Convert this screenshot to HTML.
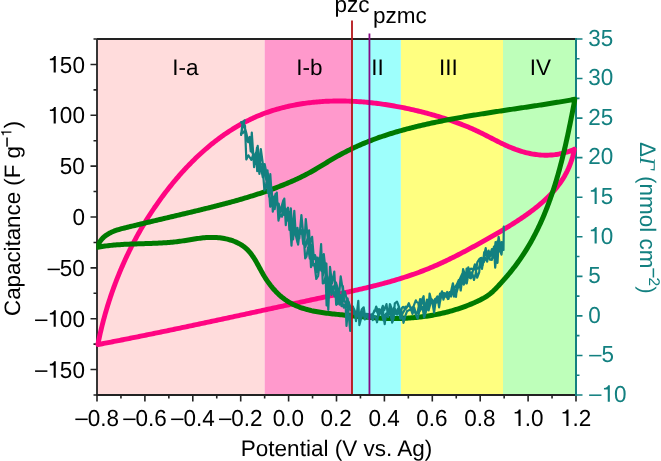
<!DOCTYPE html>
<html><head><meta charset="utf-8"><style>
html,body{margin:0;padding:0;background:#fff;}
svg{display:block;will-change:transform;}
.t{text-rendering:geometricPrecision;font-family:"Liberation Sans",sans-serif;font-size:22.5px;fill:#000;}
.teal{fill:#138080;}
</style></head><body>
<svg width="661" height="461" viewBox="0 0 661 461">
<defs><clipPath id="gclip"><rect x="96.4" y="30" width="481" height="370"/></clipPath></defs>
<rect width="661" height="461" fill="#fff"/>
<rect x="97.00" y="39.00" width="167.65" height="356.00" fill="#ffdcdc"/><rect x="264.65" y="39.00" width="87.55" height="356.00" fill="#ff99cc"/><rect x="352.20" y="39.00" width="48.70" height="356.00" fill="#9efffc"/><rect x="400.90" y="39.00" width="102.10" height="356.00" fill="#ffff80"/><rect x="503.00" y="39.00" width="73.00" height="356.00" fill="#beffba"/>
<g fill="none">
<path d="M97.0,39.0H576.0 M97.0,39.0V395.0 M96.0,395.0H576.0" stroke="#222222" stroke-width="1.8"/>
<path d="M97.00,395.00H93.50M97.00,369.57H90.50M97.00,344.14H93.50M97.00,318.71H90.50M97.00,293.29H93.50M97.00,267.86H90.50M97.00,242.43H93.50M97.00,217.00H90.50M97.00,191.57H93.50M97.00,166.14H90.50M97.00,140.71H93.50M97.00,115.29H90.50M97.00,89.86H93.50M97.00,64.43H90.50M97.00,39.00H93.50M97.00,395.00V401.50M120.95,395.00V398.50M144.90,395.00V401.50M168.85,395.00V398.50M192.80,395.00V401.50M216.75,395.00V398.50M240.70,395.00V401.50M264.65,395.00V398.50M288.60,395.00V401.50M312.55,395.00V398.50M336.50,395.00V401.50M360.45,395.00V398.50M384.40,395.00V401.50M408.35,395.00V398.50M432.30,395.00V401.50M456.25,395.00V398.50M480.20,395.00V401.50M504.15,395.00V398.50M528.10,395.00V401.50M552.05,395.00V398.50M576.00,395.00V401.50" stroke="#222222" stroke-width="1.6"/>
<path d="M576.0,38.0V396.0" stroke="#138080" stroke-width="2"/>
<path d="M576.00,395.00H582.50M576.00,375.22H579.50M576.00,355.44H582.50M576.00,335.67H579.50M576.00,315.89H582.50M576.00,296.11H579.50M576.00,276.33H582.50M576.00,256.56H579.50M576.00,236.78H582.50M576.00,217.00H579.50M576.00,197.22H582.50M576.00,177.44H579.50M576.00,157.67H582.50M576.00,137.89H579.50M576.00,118.11H582.50M576.00,98.33H579.50M576.00,78.56H582.50M576.00,58.78H579.50M576.00,39.00H582.50" stroke="#138080" stroke-width="1.6"/>
</g>
<g fill="none" stroke-linejoin="round" stroke-linecap="round">
<path d="M97.90,344.30 L98.19,342.83 L98.50,341.36 L98.80,339.89 L99.12,338.42 L99.44,336.95 L99.76,335.48 L100.09,334.02 L100.42,332.56 L100.77,331.10 L101.11,329.64 L101.46,328.18 L101.82,326.72 L102.18,325.27 L102.55,323.82 L102.92,322.37 L103.30,320.92 L103.69,319.47 L104.08,318.03 L104.47,316.58 L104.87,315.14 L105.28,313.70 L105.69,312.26 L106.11,310.82 L106.53,309.39 L106.96,307.96 L107.40,306.52 L107.84,305.09 L108.28,303.67 L108.73,302.24 L109.19,300.82 L109.65,299.40 L110.12,297.98 L110.59,296.56 L111.07,295.14 L111.55,293.73 L112.04,292.32 L112.54,290.91 L113.04,289.50 L113.54,288.10 L114.05,286.69 L114.57,285.29 L115.09,283.89 L115.62,282.50 L116.15,281.10 L116.69,279.71 L117.24,278.32 L117.79,276.93 L118.34,275.55 L118.91,274.16 L119.47,272.78 L120.05,271.40 L120.62,270.03 L121.21,268.65 L121.80,267.28 L122.39,265.91 L122.99,264.54 L123.60,263.18 L124.21,261.82 L124.83,260.46 L125.45,259.10 L126.08,257.74 L126.71,256.39 L127.35,255.04 L127.99,253.69 L128.64,252.35 L129.30,251.01 L129.96,249.67 L130.63,248.33 L131.30,247.00 L131.98,245.66 L132.66,244.33 L133.35,243.01 L134.05,241.68 L134.75,240.36 L135.46,239.04 L136.17,237.73 L136.89,236.41 L137.61,235.10 L138.34,233.80 L139.07,232.49 L139.81,231.19 L140.56,229.89 L141.31,228.59 L142.06,227.30 L142.83,226.01 L143.59,224.72 L144.37,223.44 L145.15,222.16 L145.93,220.88 L146.72,219.60 L147.52,218.33 L148.32,217.06 L149.13,215.79 L149.94,214.53 L150.76,213.27 L151.58,212.01 L152.41,210.75 L153.25,209.50 L154.09,208.25 L154.94,207.01 L155.79,205.77 L156.65,204.53 L157.51,203.29 L158.38,202.06 L159.25,200.83 L160.13,199.60 L161.02,198.38 L161.91,197.16 L162.81,195.94 L163.71,194.73 L164.62,193.52 L165.54,192.32 L166.46,191.11 L167.38,189.92 L168.31,188.72 L169.25,187.53 L170.19,186.35 L171.14,185.17 L172.09,183.99 L173.05,182.82 L174.02,181.65 L174.99,180.49 L175.96,179.33 L176.94,178.17 L177.93,177.03 L178.92,175.88 L179.92,174.74 L180.92,173.61 L181.93,172.48 L182.95,171.36 L183.97,170.25 L184.99,169.14 L186.02,168.03 L187.06,166.93 L188.10,165.84 L189.15,164.75 L190.20,163.67 L191.26,162.60 L192.32,161.53 L193.39,160.47 L194.47,159.41 L195.55,158.36 L196.63,157.32 L197.73,156.29 L198.82,155.26 L199.92,154.24 L201.03,153.22 L202.14,152.22 L203.26,151.22 L204.39,150.23 L205.51,149.24 L206.65,148.27 L207.79,147.30 L208.93,146.34 L210.08,145.38 L211.24,144.44 L212.40,143.50 L213.57,142.57 L214.74,141.65 L215.92,140.74 L217.10,139.84 L218.29,138.95 L219.48,138.06 L220.68,137.18 L221.89,136.31 L223.09,135.46 L224.31,134.61 L225.53,133.77 L226.75,132.93 L227.99,132.11 L229.22,131.30 L230.46,130.50 L231.71,129.70 L232.96,128.92 L234.22,128.15 L235.48,127.38 L236.75,126.63 L238.02,125.89 L239.30,125.16 L240.58,124.43 L241.87,123.72 L243.16,123.02 L244.46,122.33 L245.77,121.65 L247.08,120.98 L248.39,120.32 L249.71,119.68 L251.04,119.04 L252.37,118.42 L253.70,117.80 L255.04,117.20 L256.39,116.61 L257.74,116.04 L259.09,115.47 L260.45,114.92 L261.82,114.37 L263.19,113.84 L264.57,113.32 L265.95,112.82 L267.34,112.32 L268.73,111.84 L270.12,111.36 L271.52,110.90 L272.93,110.45 L274.33,110.02 L275.75,109.59 L277.16,109.17 L278.59,108.77 L280.01,108.38 L281.44,107.99 L282.87,107.62 L284.31,107.26 L285.75,106.91 L287.20,106.57 L288.65,106.24 L290.10,105.93 L291.55,105.62 L293.01,105.32 L294.47,105.03 L295.94,104.76 L297.41,104.49 L298.88,104.24 L300.35,103.99 L301.83,103.76 L303.31,103.53 L304.79,103.32 L306.28,103.11 L307.77,102.92 L309.26,102.73 L310.75,102.56 L312.25,102.39 L313.74,102.23 L315.24,102.09 L316.75,101.95 L318.25,101.82 L319.76,101.70 L321.26,101.59 L322.77,101.49 L324.28,101.40 L325.80,101.32 L327.31,101.25 L328.83,101.18 L330.35,101.13 L331.86,101.08 L333.38,101.04 L334.91,101.01 L336.43,100.99 L337.95,100.98 L339.48,100.98 L341.00,100.99 L342.53,101.00 L344.05,101.02 L345.58,101.05 L347.11,101.09 L348.64,101.14 L350.16,101.19 L351.69,101.26 L353.22,101.33 L354.75,101.41 L356.28,101.49 L357.81,101.59 L359.34,101.69 L360.87,101.80 L362.40,101.92 L363.92,102.04 L365.45,102.17 L366.98,102.31 L368.51,102.46 L370.03,102.61 L371.56,102.78 L373.08,102.94 L374.61,103.12 L376.13,103.30 L377.65,103.49 L379.17,103.69 L380.69,103.89 L382.21,104.10 L383.73,104.32 L385.24,104.54 L386.75,104.77 L388.27,105.01 L389.78,105.25 L391.29,105.50 L392.79,105.76 L394.30,106.02 L395.80,106.29 L397.30,106.56 L398.80,106.84 L400.30,107.13 L401.79,107.42 L403.28,107.71 L404.77,108.02 L406.26,108.33 L407.74,108.64 L409.23,108.96 L410.70,109.29 L412.18,109.62 L413.65,109.96 L415.12,110.30 L416.59,110.65 L418.05,111.00 L419.51,111.36 L420.97,111.72 L422.43,112.09 L423.88,112.46 L425.32,112.84 L426.77,113.22 L428.20,113.61 L429.64,114.00 L431.07,114.40 L432.50,114.80 L433.92,115.21 L435.34,115.62 L436.76,116.03 L438.17,116.45 L439.57,116.87 L440.98,117.30 L442.38,117.74 L443.77,118.17 L445.16,118.61 L446.55,119.06 L447.93,119.52 L449.31,119.97 L450.68,120.44 L452.06,120.91 L453.43,121.39 L454.79,121.87 L456.16,122.36 L457.52,122.86 L458.88,123.36 L460.24,123.87 L461.59,124.39 L462.94,124.92 L464.29,125.46 L465.64,126.00 L466.99,126.55 L468.33,127.11 L469.68,127.68 L471.02,128.26 L472.36,128.85 L473.70,129.45 L475.04,130.06 L476.38,130.68 L477.72,131.31 L479.06,131.95 L480.40,132.59 L481.73,133.25 L483.07,133.92 L484.41,134.60 L485.75,135.28 L487.09,135.96 L488.43,136.65 L489.77,137.34 L491.11,138.04 L492.46,138.73 L493.80,139.42 L495.15,140.12 L496.50,140.80 L497.86,141.49 L499.21,142.16 L500.57,142.83 L501.93,143.50 L503.29,144.15 L504.66,144.79 L506.03,145.42 L507.41,146.04 L508.79,146.65 L510.17,147.24 L511.56,147.81 L512.95,148.37 L514.35,148.91 L515.75,149.43 L517.15,149.93 L518.56,150.41 L519.97,150.87 L521.39,151.32 L522.81,151.74 L524.24,152.14 L525.67,152.51 L527.10,152.87 L528.54,153.20 L529.98,153.51 L531.42,153.80 L532.86,154.06 L534.31,154.29 L535.77,154.50 L537.22,154.68 L538.68,154.84 L540.14,154.97 L541.61,155.07 L543.07,155.15 L544.54,155.19 L546.01,155.21 L547.49,155.19 L548.96,155.15 L550.44,155.07 L551.92,154.97 L553.40,154.83 L554.89,154.66 L556.37,154.45 L557.86,154.22 L559.35,153.95 L560.84,153.64 L562.33,153.30 L563.83,152.93 L565.32,152.52 L566.82,152.07 L568.31,151.59 L569.81,151.08 L571.31,150.52 L572.80,149.93 L574.30,149.30 M574.30,149.30 L574.01,150.87 L573.69,152.42 L573.35,153.95 L572.97,155.47 L572.58,156.97 L572.15,158.45 L571.70,159.91 L571.23,161.35 L570.73,162.78 L570.21,164.19 L569.66,165.59 L569.09,166.96 L568.50,168.33 L567.88,169.67 L567.25,171.00 L566.58,172.32 L565.90,173.62 L565.20,174.90 L564.48,176.17 L563.73,177.42 L562.97,178.66 L562.18,179.89 L561.38,181.10 L560.56,182.30 L559.72,183.49 L558.86,184.66 L557.98,185.82 L557.09,186.96 L556.18,188.09 L555.25,189.21 L554.31,190.32 L553.35,191.42 L552.37,192.50 L551.38,193.58 L550.38,194.64 L549.36,195.69 L548.32,196.73 L547.28,197.76 L546.22,198.78 L545.14,199.78 L544.06,200.78 L542.96,201.77 L541.85,202.75 L540.73,203.72 L539.60,204.68 L538.46,205.63 L537.30,206.57 L536.14,207.51 L534.97,208.43 L533.79,209.35 L532.60,210.26 L531.40,211.16 L530.20,212.06 L528.98,212.94 L527.76,213.83 L526.54,214.70 L525.30,215.57 L524.06,216.43 L522.82,217.28 L521.57,218.13 L520.32,218.98 L519.06,219.82 L517.79,220.65 L516.52,221.48 L515.25,222.30 L513.98,223.12 L512.70,223.93 L511.41,224.74 L510.13,225.55 L508.84,226.35 L507.55,227.14 L506.25,227.93 L504.95,228.72 L503.65,229.50 L502.35,230.28 L501.04,231.06 L499.73,231.83 L498.42,232.60 L497.11,233.37 L495.80,234.13 L494.48,234.89 L493.16,235.65 L491.85,236.41 L490.53,237.16 L489.20,237.91 L487.88,238.66 L486.56,239.40 L485.24,240.14 L483.92,240.88 L482.59,241.62 L481.27,242.36 L479.94,243.10 L478.62,243.83 L477.30,244.56 L475.97,245.29 L474.65,246.02 L473.32,246.75 L472.00,247.47 L470.67,248.19 L469.34,248.91 L468.02,249.62 L466.69,250.33 L465.36,251.04 L464.03,251.74 L462.70,252.44 L461.37,253.14 L460.03,253.83 L458.70,254.52 L457.36,255.21 L456.03,255.89 L454.69,256.57 L453.35,257.24 L452.01,257.91 L450.67,258.57 L449.32,259.23 L447.98,259.88 L446.63,260.53 L445.28,261.17 L443.93,261.80 L442.58,262.43 L441.23,263.06 L439.87,263.68 L438.51,264.29 L437.15,264.90 L435.79,265.50 L434.42,266.09 L433.05,266.68 L431.68,267.26 L430.31,267.83 L428.94,268.40 L427.56,268.96 L426.18,269.51 L424.80,270.06 L423.41,270.60 L422.02,271.13 L420.63,271.66 L419.24,272.18 L417.85,272.69 L416.45,273.20 L415.05,273.70 L413.65,274.19 L412.25,274.68 L410.84,275.16 L409.44,275.64 L408.03,276.11 L406.61,276.58 L405.20,277.04 L403.78,277.49 L402.37,277.94 L400.95,278.39 L399.53,278.82 L398.10,279.26 L396.68,279.69 L395.25,280.11 L393.83,280.53 L392.40,280.95 L390.96,281.36 L389.53,281.77 L388.10,282.17 L386.66,282.57 L385.22,282.96 L383.78,283.35 L382.34,283.74 L380.90,284.12 L379.46,284.50 L378.01,284.88 L376.57,285.25 L375.12,285.62 L373.67,285.98 L372.22,286.35 L370.77,286.70 L369.32,287.06 L367.87,287.41 L366.42,287.77 L364.96,288.11 L363.51,288.46 L362.05,288.80 L360.59,289.14 L359.14,289.48 L357.68,289.82 L356.22,290.15 L354.76,290.48 L353.30,290.81 L351.83,291.14 L350.37,291.47 L348.91,291.79 L347.45,292.12 L345.98,292.44 L344.52,292.76 L343.05,293.08 L341.59,293.40 L340.12,293.72 L338.65,294.04 L337.19,294.35 L335.72,294.67 L334.26,294.98 L332.79,295.30 L331.32,295.61 L329.85,295.93 L328.39,296.24 L326.92,296.55 L325.45,296.87 L323.98,297.18 L322.52,297.49 L321.05,297.81 L319.58,298.12 L318.11,298.44 L316.65,298.75 L315.18,299.07 L313.71,299.38 L312.25,299.70 L310.78,300.01 L309.31,300.33 L307.84,300.64 L306.38,300.96 L304.91,301.28 L303.44,301.59 L301.98,301.91 L300.51,302.22 L299.04,302.54 L297.57,302.86 L296.11,303.17 L294.64,303.49 L293.17,303.81 L291.71,304.12 L290.24,304.44 L288.77,304.76 L287.31,305.07 L285.84,305.39 L284.37,305.71 L282.91,306.03 L281.44,306.34 L279.97,306.66 L278.51,306.98 L277.04,307.29 L275.57,307.61 L274.11,307.93 L272.64,308.25 L271.17,308.56 L269.71,308.88 L268.24,309.20 L266.77,309.51 L265.31,309.83 L263.84,310.15 L262.37,310.47 L260.91,310.78 L259.44,311.10 L257.97,311.42 L256.51,311.73 L255.04,312.05 L253.57,312.37 L252.11,312.68 L250.64,313.00 L249.17,313.32 L247.71,313.63 L246.24,313.95 L244.77,314.27 L243.31,314.58 L241.84,314.90 L240.37,315.22 L238.90,315.53 L237.44,315.85 L235.97,316.16 L234.50,316.48 L233.04,316.80 L231.57,317.11 L230.10,317.43 L228.64,317.74 L227.17,318.06 L225.70,318.37 L224.24,318.69 L222.77,319.00 L221.30,319.31 L219.83,319.63 L218.37,319.94 L216.90,320.26 L215.43,320.57 L213.97,320.88 L212.50,321.20 L211.03,321.51 L209.56,321.82 L208.10,322.13 L206.63,322.45 L205.16,322.76 L203.70,323.07 L202.23,323.38 L200.76,323.69 L199.29,324.01 L197.83,324.32 L196.36,324.63 L194.89,324.94 L193.42,325.25 L191.96,325.56 L190.49,325.87 L189.02,326.18 L187.55,326.49 L186.08,326.79 L184.62,327.10 L183.15,327.41 L181.68,327.72 L180.21,328.03 L178.74,328.33 L177.28,328.64 L175.81,328.95 L174.34,329.25 L172.87,329.56 L171.40,329.87 L169.93,330.17 L168.47,330.48 L167.00,330.78 L165.53,331.08 L164.06,331.39 L162.59,331.69 L161.12,331.99 L159.65,332.30 L158.19,332.60 L156.72,332.90 L155.25,333.20 L153.78,333.50 L152.31,333.80 L150.84,334.11 L149.37,334.41 L147.90,334.70 L146.43,335.00 L144.96,335.30 L143.49,335.60 L142.02,335.90 L140.55,336.20 L139.08,336.49 L137.61,336.79 L136.14,337.08 L134.67,337.38 L133.20,337.68 L131.73,337.97 L130.26,338.26 L128.79,338.56 L127.32,338.85 L125.85,339.14 L124.38,339.43 L122.91,339.73 L121.44,340.02 L119.97,340.31 L118.50,340.60 L117.03,340.89 L115.56,341.18 L114.09,341.46 L112.62,341.75 L111.15,342.04 L109.67,342.33 L108.20,342.61 L106.73,342.90 L105.26,343.18 L103.79,343.47 L102.32,343.75 L100.84,344.04 L99.37,344.32 L97.90,344.60" stroke="#ff0582" stroke-width="4.9"/>
<path clip-path="url(#gclip)" d="M97.60,246.00 L98.26,244.52 L98.99,243.14 L99.78,241.84 L100.63,240.61 L101.54,239.47 L102.50,238.40 L103.52,237.40 L104.58,236.46 L105.69,235.59 L106.84,234.78 L108.04,234.02 L109.27,233.32 L110.54,232.66 L111.83,232.05 L113.16,231.48 L114.52,230.95 L115.90,230.45 L117.30,229.98 L118.72,229.53 L120.15,229.11 L121.60,228.71 L123.06,228.33 L124.52,227.96 L125.99,227.59 L127.47,227.23 L128.94,226.87 L130.41,226.52 L131.88,226.16 L133.35,225.81 L134.82,225.45 L136.28,225.10 L137.75,224.75 L139.21,224.40 L140.68,224.05 L142.14,223.70 L143.61,223.35 L145.07,223.00 L146.53,222.65 L147.99,222.30 L149.45,221.96 L150.91,221.61 L152.37,221.26 L153.83,220.92 L155.29,220.57 L156.75,220.23 L158.20,219.89 L159.66,219.54 L161.12,219.20 L162.57,218.85 L164.03,218.51 L165.49,218.17 L166.94,217.82 L168.40,217.48 L169.85,217.14 L171.31,216.79 L172.76,216.45 L174.22,216.11 L175.67,215.76 L177.12,215.42 L178.58,215.08 L180.03,214.73 L181.49,214.39 L182.94,214.04 L184.40,213.70 L185.85,213.35 L187.31,213.01 L188.76,212.66 L190.22,212.31 L191.67,211.96 L193.13,211.62 L194.58,211.27 L196.04,210.92 L197.49,210.57 L198.95,210.22 L200.41,209.86 L201.86,209.51 L203.32,209.16 L204.77,208.80 L206.23,208.44 L207.68,208.08 L209.14,207.72 L210.59,207.36 L212.05,207.00 L213.50,206.63 L214.95,206.27 L216.41,205.90 L217.86,205.53 L219.31,205.15 L220.76,204.78 L222.21,204.40 L223.66,204.02 L225.11,203.64 L226.56,203.25 L228.01,202.86 L229.45,202.47 L230.90,202.08 L232.34,201.69 L233.79,201.29 L235.23,200.89 L236.67,200.48 L238.12,200.07 L239.56,199.66 L240.99,199.25 L242.43,198.83 L243.87,198.41 L245.30,197.98 L246.74,197.55 L248.17,197.12 L249.60,196.69 L251.03,196.24 L252.46,195.80 L253.89,195.35 L255.31,194.90 L256.74,194.44 L258.16,193.98 L259.58,193.52 L261.00,193.05 L262.41,192.57 L263.83,192.09 L265.24,191.61 L266.65,191.12 L268.06,190.63 L269.47,190.13 L270.88,189.63 L272.28,189.12 L273.68,188.60 L275.08,188.08 L276.48,187.56 L277.88,187.03 L279.27,186.49 L280.66,185.95 L282.05,185.40 L283.43,184.85 L284.81,184.29 L286.19,183.72 L287.57,183.15 L288.94,182.57 L290.31,181.98 L291.68,181.38 L293.04,180.78 L294.40,180.17 L295.76,179.55 L297.11,178.92 L298.46,178.29 L299.81,177.64 L301.15,176.99 L302.49,176.33 L303.82,175.66 L305.15,174.98 L306.47,174.30 L307.79,173.60 L309.11,172.89 L310.42,172.18 L311.72,171.45 L313.03,170.71 L314.32,169.97 L315.62,169.22 L316.91,168.46 L318.19,167.69 L319.48,166.92 L320.76,166.15 L322.04,165.37 L323.32,164.59 L324.61,163.81 L325.89,163.03 L327.17,162.26 L328.45,161.48 L329.74,160.71 L331.03,159.94 L332.32,159.17 L333.61,158.41 L334.91,157.66 L336.21,156.91 L337.51,156.18 L338.82,155.45 L340.14,154.73 L341.46,154.01 L342.78,153.31 L344.11,152.61 L345.44,151.92 L346.77,151.24 L348.11,150.56 L349.45,149.90 L350.80,149.24 L352.15,148.59 L353.50,147.95 L354.86,147.32 L356.22,146.69 L357.58,146.07 L358.95,145.46 L360.32,144.86 L361.69,144.26 L363.07,143.67 L364.45,143.10 L365.83,142.52 L367.22,141.96 L368.61,141.40 L370.00,140.86 L371.39,140.31 L372.79,139.78 L374.19,139.26 L375.59,138.74 L377.00,138.23 L378.41,137.72 L379.82,137.23 L381.23,136.74 L382.65,136.25 L384.06,135.78 L385.48,135.31 L386.90,134.84 L388.33,134.38 L389.75,133.93 L391.18,133.49 L392.61,133.05 L394.04,132.62 L395.48,132.19 L396.91,131.77 L398.35,131.35 L399.79,130.94 L401.23,130.53 L402.67,130.13 L404.11,129.74 L405.56,129.35 L407.00,128.96 L408.45,128.58 L409.90,128.21 L411.35,127.84 L412.80,127.47 L414.25,127.11 L415.70,126.75 L417.16,126.40 L418.61,126.05 L420.07,125.70 L421.52,125.36 L422.98,125.02 L424.44,124.69 L425.90,124.36 L427.36,124.03 L428.82,123.71 L430.28,123.38 L431.74,123.07 L433.20,122.75 L434.66,122.44 L436.13,122.14 L437.59,121.83 L439.06,121.53 L440.52,121.23 L441.99,120.94 L443.45,120.65 L444.92,120.36 L446.39,120.07 L447.86,119.79 L449.33,119.51 L450.80,119.23 L452.27,118.95 L453.74,118.68 L455.21,118.41 L456.68,118.14 L458.15,117.87 L459.62,117.61 L461.10,117.35 L462.57,117.09 L464.04,116.83 L465.52,116.58 L466.99,116.33 L468.47,116.07 L469.94,115.82 L471.42,115.58 L472.89,115.33 L474.37,115.09 L475.85,114.85 L477.32,114.60 L478.80,114.36 L480.28,114.13 L481.76,113.89 L483.23,113.66 L484.71,113.42 L486.19,113.19 L487.67,112.96 L489.15,112.73 L490.63,112.50 L492.11,112.27 L493.59,112.04 L495.07,111.82 L496.55,111.59 L498.03,111.37 L499.51,111.14 L500.99,110.92 L502.47,110.70 L503.95,110.48 L505.43,110.25 L506.91,110.03 L508.39,109.81 L509.87,109.59 L511.35,109.37 L512.83,109.15 L514.32,108.93 L515.80,108.71 L517.28,108.49 L518.76,108.27 L520.24,108.05 L521.72,107.83 L523.20,107.61 L524.68,107.39 L526.16,107.17 L527.64,106.95 L529.12,106.72 L530.60,106.50 L532.08,106.28 L533.56,106.05 L535.04,105.83 L536.52,105.60 L538.00,105.38 L539.48,105.15 L540.96,104.92 L542.44,104.70 L543.92,104.47 L545.40,104.24 L546.88,104.00 L548.36,103.77 L549.83,103.54 L551.31,103.30 L552.79,103.06 L554.26,102.82 L555.74,102.58 L557.22,102.34 L558.69,102.10 L560.17,101.85 L561.64,101.61 L563.12,101.36 L564.59,101.11 L566.07,100.86 L567.54,100.60 L569.01,100.35 L570.49,100.09 L571.96,99.83 L573.43,99.56 L574.90,99.30 M574.90,99.30 L574.62,100.75 L574.34,102.21 L574.06,103.67 L573.78,105.13 L573.49,106.58 L573.21,108.04 L572.93,109.51 L572.64,110.97 L572.35,112.43 L572.06,113.89 L571.78,115.36 L571.48,116.82 L571.19,118.29 L570.90,119.76 L570.60,121.22 L570.30,122.69 L570.01,124.16 L569.70,125.63 L569.40,127.10 L569.10,128.56 L568.79,130.03 L568.48,131.50 L568.17,132.97 L567.85,134.44 L567.54,135.91 L567.22,137.38 L566.90,138.85 L566.57,140.32 L566.24,141.78 L565.91,143.25 L565.58,144.72 L565.25,146.19 L564.91,147.65 L564.56,149.12 L564.22,150.58 L563.87,152.05 L563.52,153.51 L563.16,154.98 L562.80,156.44 L562.44,157.90 L562.07,159.36 L561.70,160.82 L561.33,162.28 L560.95,163.73 L560.57,165.19 L560.18,166.65 L559.79,168.10 L559.40,169.55 L559.00,171.00 L558.60,172.45 L558.19,173.90 L557.78,175.34 L557.36,176.79 L556.94,178.23 L556.51,179.67 L556.08,181.11 L555.64,182.54 L555.20,183.98 L554.76,185.41 L554.30,186.84 L553.85,188.27 L553.38,189.70 L552.92,191.12 L552.44,192.54 L551.96,193.96 L551.48,195.38 L550.99,196.79 L550.49,198.20 L549.99,199.61 L549.48,201.02 L548.97,202.42 L548.45,203.82 L547.92,205.22 L547.39,206.62 L546.85,208.01 L546.30,209.40 L545.75,210.78 L545.19,212.17 L544.63,213.55 L544.05,214.92 L543.48,216.30 L542.89,217.67 L542.30,219.03 L541.70,220.40 L541.09,221.76 L540.47,223.11 L539.85,224.46 L539.22,225.81 L538.58,227.16 L537.94,228.50 L537.29,229.83 L536.63,231.17 L535.96,232.50 L535.28,233.82 L534.60,235.14 L533.91,236.46 L533.21,237.77 L532.50,239.08 L531.78,240.38 L531.06,241.68 L530.33,242.97 L529.59,244.26 L528.84,245.55 L528.08,246.83 L527.31,248.11 L526.53,249.38 L525.75,250.65 L524.95,251.91 L524.15,253.16 L523.34,254.42 L522.51,255.66 L521.68,256.90 L520.84,258.14 L519.99,259.37 L519.13,260.60 L518.26,261.82 L517.39,263.03 L516.50,264.24 L515.60,265.45 L514.69,266.65 L513.77,267.84 L512.84,269.03 L511.90,270.21 L510.96,271.38 L510.00,272.55 L509.04,273.72 L508.07,274.87 L507.09,276.03 L506.11,277.17 L505.12,278.31 L504.13,279.44 L503.14,280.57 L502.14,281.69 L501.14,282.80 L500.15,283.91 L499.15,285.01 L498.14,286.09 L497.14,287.17 L496.12,288.23 L495.10,289.28 L494.05,290.30 L493.00,291.30 L491.92,292.27 L490.82,293.21 L489.69,294.12 L488.54,294.99 L487.36,295.82 L486.14,296.62 L484.89,297.38 L483.62,298.11 L482.33,298.81 L481.03,299.49 L479.71,300.15 L478.38,300.79 L477.04,301.43 L475.69,302.05 L474.34,302.66 L472.98,303.26 L471.61,303.84 L470.23,304.42 L468.85,304.98 L467.46,305.53 L466.06,306.06 L464.66,306.59 L463.25,307.10 L461.84,307.60 L460.42,308.09 L458.99,308.57 L457.56,309.03 L456.12,309.49 L454.68,309.93 L453.23,310.36 L451.78,310.78 L450.33,311.19 L448.87,311.58 L447.40,311.97 L445.94,312.34 L444.47,312.70 L442.99,313.05 L441.51,313.39 L440.03,313.72 L438.55,314.03 L437.06,314.34 L435.58,314.63 L434.09,314.92 L432.59,315.19 L431.10,315.45 L429.60,315.70 L428.10,315.94 L426.61,316.17 L425.11,316.38 L423.61,316.59 L422.10,316.79 L420.60,316.97 L419.10,317.14 L417.60,317.31 L416.09,317.46 L414.59,317.60 L413.09,317.74 L411.59,317.86 L410.09,317.97 L408.59,318.07 L407.09,318.16 L405.60,318.24 L404.10,318.31 L402.61,318.37 L401.12,318.42 L399.63,318.46 L398.15,318.49 L396.66,318.51 L395.18,318.52 L393.70,318.52 L392.23,318.51 L390.75,318.49 L389.28,318.47 L387.80,318.43 L386.33,318.39 L384.86,318.34 L383.39,318.29 L381.92,318.22 L380.45,318.15 L378.98,318.07 L377.51,317.99 L376.04,317.90 L374.57,317.81 L373.10,317.71 L371.63,317.60 L370.15,317.49 L368.68,317.38 L367.21,317.26 L365.73,317.14 L364.25,317.01 L362.78,316.88 L361.30,316.75 L359.81,316.61 L358.33,316.47 L356.84,316.33 L355.35,316.18 L353.86,316.04 L352.36,315.89 L350.87,315.74 L349.36,315.59 L347.86,315.44 L346.35,315.29 L344.84,315.14 L343.32,314.99 L341.80,314.84 L340.28,314.69 L338.75,314.54 L337.22,314.38 L335.69,314.23 L334.16,314.07 L332.63,313.90 L331.09,313.73 L329.56,313.55 L328.03,313.37 L326.50,313.18 L324.97,312.97 L323.45,312.76 L321.93,312.54 L320.41,312.31 L318.90,312.06 L317.40,311.80 L315.90,311.52 L314.40,311.23 L312.92,310.93 L311.44,310.61 L309.98,310.26 L308.52,309.90 L307.07,309.52 L305.63,309.12 L304.20,308.70 L302.79,308.26 L301.38,307.79 L299.99,307.30 L298.62,306.78 L297.26,306.24 L295.91,305.67 L294.58,305.07 L293.26,304.45 L291.96,303.79 L290.68,303.10 L289.42,302.39 L288.17,301.64 L286.95,300.86 L285.74,300.04 L284.55,299.20 L283.38,298.32 L282.23,297.42 L281.10,296.48 L279.99,295.52 L278.90,294.53 L277.82,293.52 L276.77,292.48 L275.73,291.41 L274.72,290.32 L273.72,289.21 L272.74,288.08 L271.78,286.92 L270.83,285.75 L269.91,284.56 L269.00,283.34 L268.12,282.11 L267.25,280.86 L266.40,279.60 L265.57,278.32 L264.75,277.03 L263.96,275.72 L263.18,274.40 L262.42,273.07 L261.67,271.73 L260.93,270.39 L260.20,269.04 L259.47,267.70 L258.75,266.36 L258.02,265.02 L257.29,263.69 L256.54,262.37 L255.79,261.07 L255.03,259.78 L254.25,258.51 L253.45,257.26 L252.62,256.04 L251.77,254.84 L250.90,253.67 L249.99,252.54 L249.05,251.44 L248.07,250.37 L247.05,249.35 L245.99,248.37 L244.88,247.43 L243.73,246.54 L242.54,245.70 L241.30,244.89 L240.04,244.13 L238.73,243.42 L237.40,242.75 L236.04,242.12 L234.65,241.53 L233.23,240.98 L231.79,240.47 L230.34,240.00 L228.86,239.58 L227.37,239.19 L225.87,238.84 L224.35,238.53 L222.83,238.26 L221.30,238.03 L219.77,237.83 L218.24,237.67 L216.71,237.55 L215.19,237.46 L213.67,237.40 L212.16,237.38 L210.65,237.39 L209.15,237.44 L207.65,237.50 L206.16,237.60 L204.67,237.72 L203.19,237.85 L201.71,238.01 L200.24,238.19 L198.77,238.38 L197.30,238.58 L195.83,238.80 L194.36,239.02 L192.90,239.25 L191.43,239.49 L189.97,239.73 L188.51,239.97 L187.05,240.21 L185.58,240.44 L184.12,240.68 L182.65,240.90 L181.18,241.11 L179.71,241.32 L178.24,241.51 L176.77,241.69 L175.29,241.86 L173.81,242.02 L172.33,242.17 L170.85,242.30 L169.36,242.43 L167.88,242.55 L166.39,242.66 L164.90,242.77 L163.41,242.86 L161.91,242.95 L160.42,243.04 L158.92,243.11 L157.43,243.18 L155.93,243.25 L154.43,243.31 L152.93,243.37 L151.43,243.43 L149.93,243.48 L148.43,243.53 L146.93,243.57 L145.42,243.62 L143.92,243.66 L142.42,243.71 L140.91,243.75 L139.41,243.80 L137.90,243.84 L136.40,243.89 L134.90,243.94 L133.39,243.99 L131.89,244.04 L130.39,244.10 L128.88,244.16 L127.38,244.23 L125.88,244.30 L124.38,244.37 L122.88,244.45 L121.38,244.54 L119.88,244.64 L118.39,244.74 L116.89,244.85 L115.40,244.97 L113.91,245.09 L112.41,245.23 L110.92,245.37 L109.44,245.53 L107.95,245.70 L106.47,245.87 L104.98,246.06 L103.50,246.26 L102.02,246.48 L100.55,246.70 L99.07,246.95 L97.60,247.20" stroke="#007a00" stroke-width="5.0"/>
<path d="M241.2,122.1 L242.8,122.9 L244.5,126.4 L246.3,133.0 L248.1,141.5 L249.6,138.6 L250.7,151.3 L251.8,132.5 L254.1,167.2 L256.0,152.6 L257.2,171.2 L258.3,161.8 L259.6,163.2 L261.2,169.1 L262.8,177.2 L264.7,164.1 L266.4,172.6 L267.8,172.5 L270.2,206.7 L272.2,195.0 L273.6,200.0 L274.7,209.2 L276.8,192.6 L278.4,219.8 L280.7,214.6 L282.0,216.7 L284.3,198.5 L285.8,225.2 L286.9,210.9 L288.3,211.5 L289.4,212.4 L291.5,245.7 L292.6,226.9 L293.7,231.9 L295.8,235.3 L297.5,242.6 L298.7,233.4 L300.6,229.9 L301.8,230.4 L303.2,243.8 L305.5,246.8 L307.8,237.2 L309.1,230.4 L311.0,267.2 L312.1,263.0 L313.5,256.6 L315.6,256.3 L316.7,272.2 L317.8,257.7 L319.6,264.8 L321.1,244.1 L322.8,283.4 L324.6,282.5 L325.8,273.6 L328.1,286.5 L329.4,276.2 L331.4,294.9 L333.7,287.1 L336.0,282.5 L337.1,286.2 L338.2,303.6 L340.2,295.1 L341.5,306.2 L342.9,286.1 L344.2,301.4 L345.5,301.9 L346.5,326.0 L348.7,301.7 L351.0,309.3 L352.3,310.9 L354.0,314.1 L355.5,313.4 L357.3,316.1 L359.5,316.9 L361.9,309.2 L363.7,307.3 L364.9,315.3 L367.2,314.8 L369.2,315.7 L371.1,314.4 L372.7,314.2 L375.1,310.3 L376.2,306.6 L378.5,312.5 L380.5,312.3 L382.8,305.9 L384.3,310.2 L386.5,304.1 L388.1,317.0 L389.9,304.1 L391.8,309.0 L393.6,318.7 L394.8,303.3 L397.0,301.7 L399.0,307.0 L400.8,318.7 L402.4,313.8 L404.5,310.1 L405.5,306.7 L406.8,307.5 L408.8,303.2 L411.1,309.9 L412.5,313.9 L414.4,309.4 L415.7,314.4 L417.6,318.5 L419.2,311.8 L421.2,304.5 L422.5,298.3 L424.7,309.8 L427.0,299.6 L428.4,308.8 L429.6,293.6 L431.8,302.7 L433.8,305.2 L435.0,299.0 L436.7,298.7 L438.2,301.8 L440.1,293.5 L442.3,295.9 L444.7,293.1 L445.7,294.5 L447.9,299.0 L449.7,293.6 L451.2,291.3 L452.3,289.5 L454.0,296.6 L455.3,289.3 L456.5,292.7 L458.1,287.1 L460.0,278.8 L462.4,273.5 L464.3,278.8 L465.6,281.0 L466.6,268.7 L467.8,275.9 L469.2,269.6 L470.9,278.3 L472.8,271.1 L474.9,264.4 L477.2,277.7 L479.2,272.4 L480.4,258.1 L482.7,265.7 L484.2,252.0 L486.3,255.8 L488.6,250.6 L489.9,259.7 L491.9,259.8 L493.9,246.7 L495.2,267.7 L497.6,241.0 L499.3,251.3 L501.6,242.1 L503.5,250.0 L503.8,226.5 M241.1,135.0 L242.7,122.5 L244.6,120.3 L241.0,133.8 L242.8,133.1 L244.9,130.5 L247.0,138.2 L248.1,142.2 L249.6,137.0 L251.7,151.1 L253.4,155.4 L255.4,163.4 L257.7,145.9 L259.4,167.1 L260.7,164.0 L262.5,165.2 L264.4,190.3 L266.1,185.3 L267.5,170.4 L269.1,197.0 L270.3,174.2 L272.5,207.0 L274.3,198.7 L275.6,193.8 L277.5,205.6 L278.5,220.6 L280.1,211.1 L282.2,207.6 L284.2,215.0 L285.3,211.0 L287.6,219.9 L289.9,223.0 L291.1,235.3 L292.7,234.5 L294.3,210.9 L295.8,234.7 L298.1,244.6 L299.3,234.9 L300.5,233.6 L301.8,233.7 L303.3,230.2 L305.2,258.4 L306.4,256.7 L308.1,247.4 L309.8,258.5 L311.5,244.6 L313.2,265.4 L314.4,263.8 L316.3,279.0 L318.1,276.0 L320.3,257.0 L321.6,271.2 L323.8,254.2 L325.3,267.6 L326.6,305.5 L329.0,288.9 L330.3,281.8 L332.3,288.2 L334.5,296.3 L336.1,294.2 L337.7,288.3 L339.6,304.6 L341.6,299.9 L343.8,307.7 L345.6,303.4 L347.6,298.5 L348.9,307.5 L350.0,309.5 L351.8,310.5 L353.5,308.1 L354.7,310.4 L356.0,321.1 L358.3,300.9 L359.4,325.1 L361.1,318.4 L363.2,311.2 L364.9,319.5 L366.5,313.8 L368.5,314.1 L370.7,317.1 L372.7,320.0 L374.3,315.9 L376.0,317.8 L377.0,322.3 L379.0,309.1 L381.2,311.2 L383.0,310.9 L384.7,324.1 L386.1,313.5 L388.4,314.1 L390.5,305.1 L392.1,322.7 L394.1,307.4 L396.1,314.3 L398.1,308.3 L399.2,310.3 L400.2,318.4 L401.7,308.2 L403.1,306.8 L405.4,309.2 L407.3,306.8 L409.1,305.2 L411.5,308.6 L413.4,306.6 L415.8,300.4 L416.8,302.2 L418.2,302.7 L419.7,311.3 L421.3,308.5 L422.4,306.8 L424.2,317.5 L425.9,312.0 L428.3,302.8 L430.2,304.1 L432.0,300.4 L434.1,312.6 L435.3,303.5 L437.0,302.0 L438.8,303.2 L439.9,302.2 L441.6,294.7 L443.5,293.0 L445.4,296.7 L447.2,292.0 L448.6,298.8 L449.6,292.1 L450.8,292.5 L452.9,283.3 L454.9,293.9 L456.0,296.9 L457.1,286.2 L459.4,279.7 L461.7,282.6 L463.1,269.1 L465.1,275.2 L466.7,283.5 L468.6,273.0 L469.7,269.6 L471.0,268.6 L472.1,269.0 L473.7,269.8 L475.7,265.0 L477.5,268.5 L479.1,267.3 L481.5,257.9 L483.8,262.2 L485.0,257.6 L487.2,261.6 L488.7,250.8 L490.1,254.6 L491.9,249.1 L493.8,254.8 L495.1,249.7 L497.5,262.8 L498.6,243.9 L499.7,248.7 L501.5,254.7 L502.7,244.3 M241.5,123.0 L243.3,123.1 L245.0,125.8 L246.3,159.5 L248.4,155.3 L249.5,157.0 L251.4,159.9 L253.5,153.5 L254.8,164.4 L257.0,147.6 L259.4,173.9 L260.8,149.0 L263.1,165.7 L264.7,171.4 L266.9,183.3 L268.0,193.1 L269.7,193.9 L271.7,189.4 L272.8,211.7 L274.1,198.3 L275.5,200.6 L277.5,205.5 L278.7,203.6 L280.2,212.2 L281.4,207.3 L283.4,200.1 L285.7,212.0 L288.0,207.6 L289.4,229.9 L290.8,208.3 L293.1,239.5 L294.4,223.1 L296.0,236.9 L297.5,227.9 L299.3,238.4 L301.4,215.0 L303.2,234.1 L304.4,243.2 L305.8,219.0 L306.9,230.4 L308.7,246.8 L311.0,240.0 L312.1,236.9 L313.9,259.1 L315.0,255.1 L317.0,268.1 L318.9,264.8 L320.1,269.7 L321.5,254.9 L322.8,275.8 L324.8,263.1 L326.4,263.5 L328.3,310.0 L330.0,266.8 L332.0,283.6 L334.3,271.5 L336.2,304.8 L338.4,303.1 L340.7,276.3 L343.0,291.4 L345.0,291.9 L347.1,301.1 L348.3,309.8 L350.2,331.0 L351.6,309.2 L352.9,306.5 L355.2,314.0 L356.3,311.6 L358.2,315.4 L360.3,314.2 L362.0,315.4 L363.8,315.3 L364.9,313.5 L366.2,315.3 L368.2,318.3 L370.0,315.2 L371.4,318.0 L372.7,315.0 L374.4,310.3 L376.6,310.8 L378.8,315.5 L381.1,311.3 L383.4,320.3 L385.1,314.9 L387.4,316.1 L389.6,309.5 L391.3,318.4 L392.7,321.7 L394.0,313.5 L395.0,308.9 L397.1,314.6 L399.1,311.2 L400.3,311.5 L401.8,312.2 L403.5,322.8 L405.4,315.7 L407.2,310.8 L408.4,310.6 L410.5,309.6 L412.7,310.4 L414.1,307.2 L416.1,313.7 L417.7,311.9 L420.1,299.1 L421.5,302.0 L423.6,296.2 L424.7,311.7 L426.9,306.6 L428.6,310.4 L429.9,305.8 L431.3,298.9 L432.4,300.1 L434.4,306.3 L435.9,298.8 L437.4,296.4 L439.1,307.3 L441.0,294.9 L442.0,291.4 L443.4,299.6 L445.2,293.8 L447.5,293.2 L449.7,293.5 L451.1,296.5 L452.6,286.8 L454.1,288.2 L455.6,286.4 L456.9,284.4 L458.9,279.8 L460.7,290.5 L462.7,275.4 L463.8,284.6 L465.0,282.1 L467.0,279.0 L468.3,267.3 L470.1,278.0 L471.2,272.5 L472.4,273.9 L474.0,279.9 L475.6,273.7 L477.3,262.3 L479.5,258.8 L481.0,262.1 L482.0,268.8 L483.6,258.0 L485.7,248.2 L487.6,258.7 L489.1,257.7 L490.5,255.6 L492.1,253.8 L493.8,257.5 L495.6,242.0 L496.9,253.6 L498.6,236.8 L500.1,245.6 L502.1,247.3" stroke="#138080" stroke-width="2.2"/>
</g>
<g fill="none">
<path d="M352.0,20.6V394" stroke="#b41418" stroke-width="1.8"/>
<path d="M369.45,33.4V394" stroke="#850a85" stroke-width="1.8"/>
</g>
<g transform="translate(0,377.72) scale(1,1.030) translate(0,-377.72)"><text x="47.36" y="377.72" class="t" style="fill:#000"> 50</text><rect x="35.08" y="370.56" width="12.31" height="1.5" fill="#000"/><path transform="translate(47.36,377.72) scale(0.02250,-0.02250)" d="M280 0L374 0L374 712L298 712C284 642 232 606 112 598L112 532L280 532Z" fill="#000"/></g><g transform="translate(0,326.86) scale(1,1.030) translate(0,-326.86)"><text x="47.36" y="326.86" class="t" style="fill:#000"> 00</text><rect x="35.08" y="319.70" width="12.31" height="1.5" fill="#000"/><path transform="translate(47.36,326.86) scale(0.02250,-0.02250)" d="M280 0L374 0L374 712L298 712C284 642 232 606 112 598L112 532L280 532Z" fill="#000"/></g><g transform="translate(0,276.01) scale(1,1.030) translate(0,-276.01)"><text x="59.87" y="276.01" class="t" style="fill:#000">50</text><rect x="47.59" y="268.84" width="12.31" height="1.5" fill="#000"/></g><g transform="translate(0,225.15) scale(1,1.030) translate(0,-225.15)"><text x="72.39" y="225.15" class="t" style="fill:#000">0</text></g><g transform="translate(0,174.29) scale(1,1.030) translate(0,-174.29)"><text x="59.87" y="174.29" class="t" style="fill:#000">50</text></g><g transform="translate(0,123.44) scale(1,1.030) translate(0,-123.44)"><text x="47.36" y="123.44" class="t" style="fill:#000"> 00</text><path transform="translate(47.36,123.44) scale(0.02250,-0.02250)" d="M280 0L374 0L374 712L298 712C284 642 232 606 112 598L112 532L280 532Z" fill="#000"/></g><g transform="translate(0,72.58) scale(1,1.030) translate(0,-72.58)"><text x="47.36" y="72.58" class="t" style="fill:#000"> 50</text><path transform="translate(47.36,72.58) scale(0.02250,-0.02250)" d="M280 0L374 0L374 712L298 712C284 642 232 606 112 598L112 532L280 532Z" fill="#000"/></g><g transform="translate(0,425.90) scale(1,1.030) translate(0,-425.90)"><text x="87.63" y="425.90" class="t" style="fill:#000">0.8</text><rect x="75.35" y="418.74" width="12.31" height="1.5" fill="#000"/></g><g transform="translate(0,425.90) scale(1,1.030) translate(0,-425.90)"><text x="135.53" y="425.90" class="t" style="fill:#000">0.6</text><rect x="123.25" y="418.74" width="12.31" height="1.5" fill="#000"/></g><g transform="translate(0,425.90) scale(1,1.030) translate(0,-425.90)"><text x="183.43" y="425.90" class="t" style="fill:#000">0.4</text><rect x="171.15" y="418.74" width="12.31" height="1.5" fill="#000"/></g><g transform="translate(0,425.90) scale(1,1.030) translate(0,-425.90)"><text x="231.33" y="425.90" class="t" style="fill:#000">0.2</text><rect x="219.05" y="418.74" width="12.31" height="1.5" fill="#000"/></g><g transform="translate(0,425.90) scale(1,1.030) translate(0,-425.90)"><text x="272.66" y="425.90" class="t" style="fill:#000">0.0</text></g><g transform="translate(0,425.90) scale(1,1.030) translate(0,-425.90)"><text x="320.56" y="425.90" class="t" style="fill:#000">0.2</text></g><g transform="translate(0,425.90) scale(1,1.030) translate(0,-425.90)"><text x="368.46" y="425.90" class="t" style="fill:#000">0.4</text></g><g transform="translate(0,425.90) scale(1,1.030) translate(0,-425.90)"><text x="416.36" y="425.90" class="t" style="fill:#000">0.6</text></g><g transform="translate(0,425.90) scale(1,1.030) translate(0,-425.90)"><text x="464.26" y="425.90" class="t" style="fill:#000">0.8</text></g><g transform="translate(0,425.90) scale(1,1.030) translate(0,-425.90)"><text x="512.16" y="425.90" class="t" style="fill:#000"> .0</text><path transform="translate(512.16,425.90) scale(0.02250,-0.02250)" d="M280 0L374 0L374 712L298 712C284 642 232 606 112 598L112 532L280 532Z" fill="#000"/></g><g transform="translate(0,425.90) scale(1,1.030) translate(0,-425.90)"><text x="560.06" y="425.90" class="t" style="fill:#000"> .2</text><path transform="translate(560.06,425.90) scale(0.02250,-0.02250)" d="M280 0L374 0L374 712L298 712C284 642 232 606 112 598L112 532L280 532Z" fill="#000"/></g><g transform="translate(0,401.80) scale(1,1.030) translate(0,-401.80)"><text x="601.44" y="401.80" class="t" style="fill:#138080"> 0</text><rect x="589.15" y="394.64" width="12.31" height="1.5" fill="#138080"/><path transform="translate(601.44,401.80) scale(0.02250,-0.02250)" d="M280 0L374 0L374 712L298 712C284 642 232 606 112 598L112 532L280 532Z" fill="#138080"/></g><g transform="translate(0,362.24) scale(1,1.030) translate(0,-362.24)"><text x="601.44" y="362.24" class="t" style="fill:#138080">5</text><rect x="589.15" y="355.08" width="12.31" height="1.5" fill="#138080"/></g><g transform="translate(0,322.69) scale(1,1.030) translate(0,-322.69)"><text x="588.30" y="322.69" class="t" style="fill:#138080">0</text></g><g transform="translate(0,283.13) scale(1,1.030) translate(0,-283.13)"><text x="588.30" y="283.13" class="t" style="fill:#138080">5</text></g><g transform="translate(0,243.58) scale(1,1.030) translate(0,-243.58)"><text x="588.30" y="243.58" class="t" style="fill:#138080"> 0</text><path transform="translate(588.30,243.58) scale(0.02250,-0.02250)" d="M280 0L374 0L374 712L298 712C284 642 232 606 112 598L112 532L280 532Z" fill="#138080"/></g><g transform="translate(0,204.02) scale(1,1.030) translate(0,-204.02)"><text x="588.30" y="204.02" class="t" style="fill:#138080"> 5</text><path transform="translate(588.30,204.02) scale(0.02250,-0.02250)" d="M280 0L374 0L374 712L298 712C284 642 232 606 112 598L112 532L280 532Z" fill="#138080"/></g><g transform="translate(0,164.47) scale(1,1.030) translate(0,-164.47)"><text x="588.30" y="164.47" class="t" style="fill:#138080">20</text></g><g transform="translate(0,124.91) scale(1,1.030) translate(0,-124.91)"><text x="588.30" y="124.91" class="t" style="fill:#138080">25</text></g><g transform="translate(0,85.36) scale(1,1.030) translate(0,-85.36)"><text x="588.30" y="85.36" class="t" style="fill:#138080">30</text></g><g transform="translate(0,45.80) scale(1,1.030) translate(0,-45.80)"><text x="588.30" y="45.80" class="t" style="fill:#138080">35</text></g>
<text x="185.5" y="75" text-anchor="middle" class="t">I-a</text>
<text x="309.3" y="75" text-anchor="middle" class="t">I-b</text>
<text x="377.5" y="75" text-anchor="middle" class="t">II</text>
<text x="448.4" y="75" text-anchor="middle" class="t">III</text>
<text x="540.5" y="75" text-anchor="middle" class="t">IV</text>
<text x="352" y="12" text-anchor="middle" class="t">pzc</text>
<text x="400" y="23" text-anchor="middle" class="t">pzmc</text>
<text x="336.5" y="456" text-anchor="middle" class="t">Potential (V vs. Ag)</text>
<g transform="translate(19.9,315.90) rotate(-90)"><text x="0" y="0" class="t" style="font-size:22.30px">Capacitance (F g</text><rect x="169.2" y="-13.6" width="9.2" height="1.5" fill="#000"/><path transform="translate(179.06,-8.5) scale(0.0145,-0.0145)" d="M280 0L374 0L374 712L298 712C284 642 232 606 112 598L112 532L280 532Z" fill="#000"/><text x="187.56" y="0" class="t" style="font-size:22.30px">)</text></g>
<g transform="translate(639.8,142.00) rotate(90)"><text x="0" y="0" class="t teal">Δ<tspan font-family="Liberation Serif" font-style="italic">Γ</tspan> (nmol cm</text><rect x="126.3" y="-14.35" width="9.2" height="1.5" fill="#138080"/><text x="135.4" y="-9.5" class="t teal" style="font-size:15.5px">2</text><text x="144.20" y="0" class="t teal">)</text></g>
</svg>
</body></html>
